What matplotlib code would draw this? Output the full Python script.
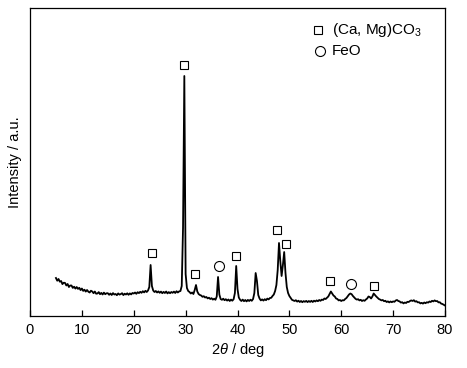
import numpy as np
import matplotlib
matplotlib.use("Agg")
import matplotlib.pyplot as plt

plt.rcParams['font.family'] = ['Liberation Sans', 'DejaVu Sans']
plt.rcParams['mathtext.fontset'] = 'custom'
plt.rcParams['mathtext.rm'] = 'Liberation Sans'
plt.rcParams['mathtext.it'] = 'Liberation Sans:italic'

# 2theta grid (deg), 0.25 deg step from 5 to 80
two_theta = np.arange(5.0, 80.001, 0.25)

# intensity (a.u.)
intensity = [
    38, 35.3, 37, 34.3, 35, 31.9, 33.3, 33.1, 30.5, 32, 29, 30.5, 30.5, 28.1, 29.3, 27.4, 29, 27.1, 28.2, 25.9,
    27.5, 25.1, 26.3, 24.4, 26, 24.3, 23.5, 25.3, 24.5, 22.8, 24.5, 22.3, 22.5, 23.9, 21.8, 23.1, 21.5, 23.4, 21.8, 22.7,
    22.8, 21.2, 22.5, 21, 22.9, 21.5, 22, 20.8, 22.6, 21.4, 21.9, 22.8, 20.9, 22.3, 21.5, 22.7, 21.2, 22.6, 21.6, 23,
    22.5, 23.5, 22.2, 23.8, 22.9, 24.2, 23.2, 24.8, 23.6, 25.2, 24, 25.5, 29, 51, 30, 25.5, 24, 25, 23.5, 24.6,
    23.2, 24.4, 22.8, 24.1, 23, 24.5, 22.6, 23.9, 22.8, 24, 23.2, 24.4, 23, 24.8, 23.5, 24.6, 25, 30, 88, 240,
    42, 28, 25, 24, 22.5, 23.5, 22, 26, 31, 24.5, 22, 21, 20.5, 19.2, 19.8, 18.5, 19, 17.6, 18.3, 17,
    17.8, 16.4, 17.3, 16.2, 19.5, 39, 21.5, 17, 16.2, 17.3, 15.8, 16.8, 15.4, 16.5, 15, 16.4, 15.3, 16.8, 23, 50,
    27, 18.5, 16.2, 15, 16.4, 14.8, 16, 14.6, 16.1, 15, 16.3, 15.2, 17, 23, 43, 35, 21, 17.5, 15.6, 16.6,
    15.4, 16.8, 15.8, 17.4, 16.6, 18, 18.2, 20, 21.5, 25, 31, 46, 73, 55, 40, 51, 64, 43, 29, 23,
    20, 18, 16.2, 15.6, 15, 15.8, 14.4, 15.3, 14, 15, 13.8, 14.9, 14.2, 15.1, 13.9, 15, 14.1, 15.2, 14, 15.3,
    14.5, 15.6, 14.8, 16, 15.2, 16.4, 16, 17.5, 17, 18.2, 19.5, 22, 24.5, 22.5, 20.5, 19.5, 17.5, 17, 15.6, 16,
    15, 15.8, 15.6, 17, 18, 19.8, 21.5, 22.5, 21.8, 20, 18.6, 17.2, 16.4, 16.8, 15.6, 16.2, 15, 15.8, 15.2, 16.5,
    17.5, 19.5, 19, 17.5, 19.5, 22.5, 21, 19.5, 18.2, 17, 16.4, 15.6, 16, 14.8, 15.2, 14, 14.6, 13.6, 14.5, 13.8,
    14.6, 14.2, 15.5, 16, 15, 14.6, 13.4, 13.8, 12.6, 13.5, 13, 14.2, 14, 15, 15.6, 15, 15.8, 14.4, 14.8, 13.6,
    13.8, 12.6, 13.2, 12.4, 13.5, 12.8, 13.8, 13.4, 14.5, 14, 15.2, 14.6, 15.6, 14.8, 15, 13.6, 13.8, 12.4, 12, 11.2,
    10.5,
]

# phase markers: (Ca, Mg)CO3 squares and FeO circles
carb_x = [23.5, 29.6, 31.9, 39.65, 47.7, 49.4, 57.8, 66.3]
carb_y = [63, 250.7, 41.7, 59.7, 86, 71.7, 35, 30]
feo_x = [36.4, 61.8]
feo_y = [49.7, 31.7]

legend_labels = ['(Ca, Mg)CO$_3$', 'FeO']
x_ticks = [0, 10, 20, 30, 40, 50, 60, 70, 80]

fig = plt.figure(figsize=(4.67, 3.68), dpi=100)
ax = fig.add_axes([30/467, 1-316/368, 415/467, 308/368])

ax.plot(two_theta, intensity, color='black', lw=1.3)
ax.plot(carb_x, carb_y, ls='none', marker='s', ms=6.3, mfc='white',
        mec='black', mew=0.8)
ax.plot(feo_x, feo_y, ls='none', marker='o', ms=7.2, mfc='white',
        mec='black', mew=0.8)

# legend
ax.plot([0.694], [0.929], transform=ax.transAxes, marker='s', ms=6.3,
        mfc='white', mec='black', mew=0.8, clip_on=False)
ax.plot([0.699], [0.860], transform=ax.transAxes, marker='o', ms=7.2,
        mfc='white', mec='black', mew=0.8, clip_on=False)
ax.text(0.727, 0.929, legend_labels[0], transform=ax.transAxes,
        va='center', ha='left', fontsize=11)
ax.text(0.727, 0.860, legend_labels[1], transform=ax.transAxes,
        va='center', ha='left', fontsize=11)

ax.set_xlim(0, 80)
ax.set_ylim(0, 308)
ax.set_xticks(x_ticks)
ax.set_yticks([])
ax.tick_params(axis='x', direction='in', length=4, width=0.9,
               labelsize=10.5, pad=5)
for s in ax.spines.values():
    s.set_linewidth(0.9)

ax.set_xlabel(r'2$\it{\theta}$ / deg', fontsize=10.5, labelpad=3)
ax.set_ylabel('Intensity / a.u.', fontsize=10.5, labelpad=6)

fig.savefig('out.png', dpi=100)
